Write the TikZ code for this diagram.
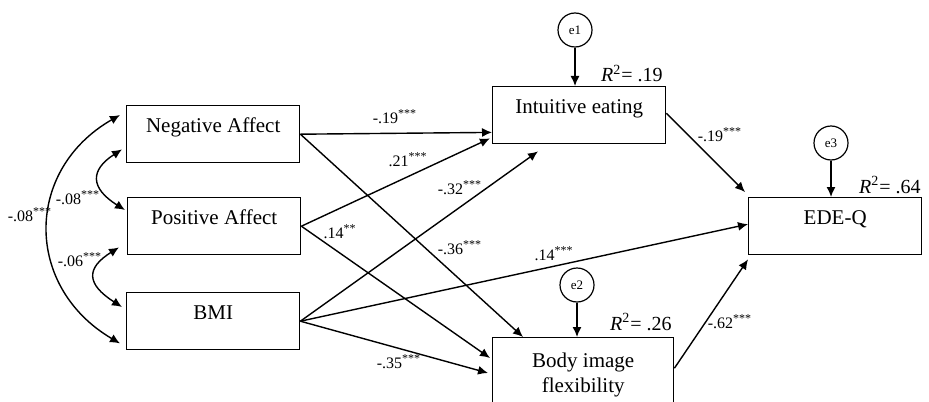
\documentclass[tikz,border=0pt]{standalone}
\usepackage{fontspec}
\setmainfont{Liberation Serif}
\usetikzlibrary{arrows.meta,calc}
\newcommand{\sig}[1]{\textsuperscript{#1}}

\begin{document}
\begin{tikzpicture}[x=0.5pt, y=-0.5pt, >={Latex[length=5pt,width=4.5pt]},
  var/.style={draw, line width=0.7pt, anchor=north west, minimum width=86.5pt, minimum height=28.5pt,
    inner sep=0pt, font=\fontsize{10.5}{12.5}\selectfont},
  oneline/.style={var, text height=7.5pt, text depth=9pt},
  err/.style={draw, circle, line width=0.6pt, minimum size=17pt, inner sep=0pt, font=\fontsize{6.5}{7}\selectfont},
  coef/.style={font=\fontsize{8}{9}\selectfont, inner sep=0pt},
  rsq/.style={font=\fontsize{10}{11}\selectfont, inner sep=0pt, anchor=base east},
  eff/.style={->, line width=0.7pt},
  cov/.style={<->, line width=0.7pt}]
  \clip (0,0) rectangle (929,401);
  % observed variables
  \node[oneline] (na) at (126,105) {Negative Affect};
  \node[oneline] (pa) at (127,197) {Positive Affect};
  \node[oneline] (bmi) at (126,292) {BMI};
  \node[oneline] (ie) at (492,86) {Intuitive eating};
  \node[oneline] (ede) at (748,197) {EDE-Q};
  \node[var, minimum width=90.5pt, minimum height=37.5pt, align=center] (bif) at (492,337) {Body image\\flexibility};
  % residuals
  \node[err] (e1) at (575,30) {e1};
  \node[err] (e2) at (577,285) {e2};
  \node[err] (e3) at (831,143) {e3};
  \draw[eff] (e1.south) -- (e1.south |- ie.north);
  \draw[eff] (e2.south) -- (e2.south |- bif.north);
  \draw[eff] (e3.south) -- (e3.south |- ede.north);
  \node[rsq] (r1) at (663,82) {{\itshape R}\textsuperscript{2}= .19};
  \node[rsq] (r2) at (672,330) {{\itshape R}\textsuperscript{2}= .26};
  \node[rsq] (r3) at (921,193) {{\itshape R}\textsuperscript{2}= .64};
  % covariances
  \draw[cov] ($(na.north west)+(-6,10)$) .. controls (24,170) and (24,287) .. ($(bmi.south west)+(-6,-7)$);
  \draw[cov] ($(na.south west)+(-4,-14)$) .. controls (90,170) and (90,188) .. ($(pa.north west)+(-2,13)$);
  \draw[cov] ($(pa.south west)+(-8,-8)$) .. controls (86,268) and (86,284) .. ($(bmi.north west)+(-4,15)$);
  \node[coef] (c1) at (30,215) {-.08\sig{***}};
  \node[coef] (c2) at (78,198) {-.08\sig{***}};
  \node[coef] (c3) at (80,260) {-.06\sig{***}};
  % paths
  \draw[eff] (na.east) -- ($(ie.south west)+(0,-12)$);
  \draw[eff] (na.east) -- ($(bif.north west)+(31,0)$);
  \draw[eff] (pa.east) -- ($(ie.south west)+(-2,-6)$);
  \draw[eff] (pa.east) -- ($(bif.north west)+(-2,21)$);
  \draw[eff] (bmi.east) -- ($(ie.south west)+(46,7)$);
  \draw[eff] (bmi.east) -- ($(ede.west)+(0,-2)$);
  \draw[eff] (bmi.east) -- ($(bif.north west)+(-4,36)$);
  \draw[eff] ($(ie.east)+(0,-2)$) -- ($(ede.north west)+(-3,-5)$);
  \draw[eff] ($(bif.east)+(0,-7)$) -- ($(ede.south west)+(0,4)$);
  \node[coef] (b1) at (395,117) {-.19\sig{***}};
  \node[coef] (b2) at (408,160) {.21\sig{***}};
  \node[coef] (b3) at (460,188) {-.32\sig{***}};
  \node[coef] (b4) at (340,232) {.14\sig{**}};
  \node[coef] (b5) at (460,248) {-.36\sig{***}};
  \node[coef] (b6) at (554,254) {.14\sig{***}};
  \node[coef] (b7) at (399,362) {-.35\sig{***}};
  \node[coef] (b8) at (720,135) {-.19\sig{***}};
  \node[coef] (b9) at (730,322) {-.62\sig{***}};
\end{tikzpicture}
\end{document}
